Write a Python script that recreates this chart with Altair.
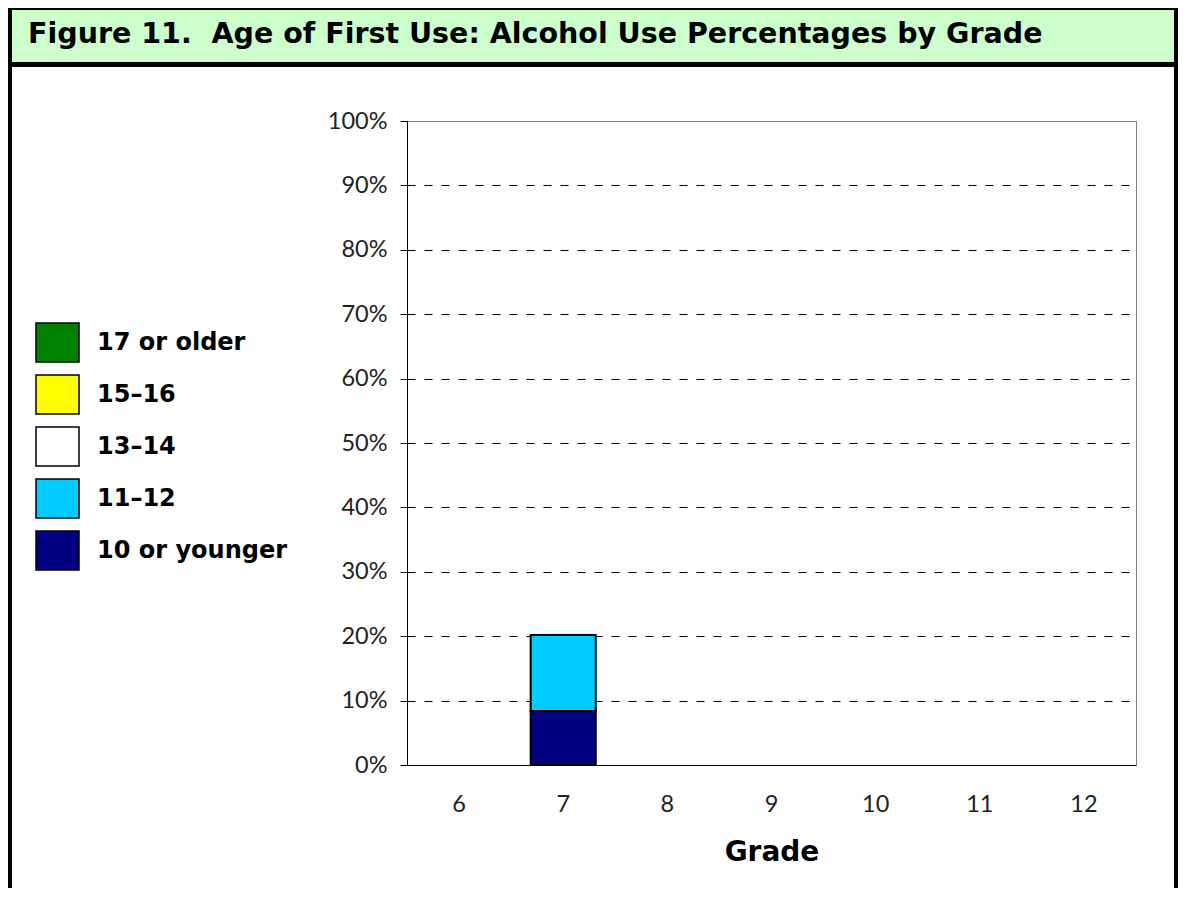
import altair as alt
import pandas as pd

# ---- data ----
grades = ["6", "7", "8", "9", "10", "11", "12"]
age_groups = ["17 or older", "15–16", "13–14", "11–12", "10 or younger"]
group_colors = ["#008000", "#ffff00", "#ffffff", "#00ccff", "#000080"]
stack_rank = [5, 4, 3, 2, 1]  # 1 = bottom of the stack

pct_17_older = [0, 0, 0, 0, 0, 0, 0]
pct_15_16 = [0, 0, 0, 0, 0, 0, 0]
pct_13_14 = [0, 0, 0, 0, 0, 0, 0]
pct_11_12 = [0, 11.8, 0, 0, 0, 0, 0]
pct_10_younger = [0, 8.4, 0, 0, 0, 0, 0]

y_ticks = [0, 10, 20, 30, 40, 50, 60, 70, 80, 90, 100]
title_text = "Figure 11.\u00a0 Age of First Use: Alcohol Use Percentages by Grade"
x_title = "Grade"

series = [pct_17_older, pct_15_16, pct_13_14, pct_11_12, pct_10_younger]
rows = []
for grp, rank, vals in zip(age_groups, stack_rank, series):
    for g, v in zip(grades, vals):
        rows.append({"grade": g, "age": grp, "rank": rank, "value": v})
df = pd.DataFrame(rows)

one = alt.Data(values=[{"k": 1}])


def box(x1, x2, y1, y2, color):
    return alt.Chart(one).mark_rect(color=color).encode(
        x=alt.value(x1), x2=alt.value(x2), y=alt.value(y1), y2=alt.value(y2)
    )


# frame pieces (coordinates relative to plot origin)
frame_top = box(-399, 771, -113, -54, "black")
frame_green = box(-395, 767, -111, -59, "#ccffcc")
frame_left = box(-399, -395, -113, 767, "black")
frame_right = box(767, 771, -113, 767, "black")

title = alt.Chart(one).mark_text(
    text=title_text, align="left", baseline="alphabetic",
    font="DejaVu Sans", fontWeight="bold", fontSize=28.5, color="black",
).encode(x=alt.value(-379), y=alt.value(-78))

bars = alt.Chart(df).transform_filter("datum.value > 0").mark_bar(
    stroke="black", strokeWidth=2
).encode(
    x=alt.X(
        "grade:N", sort=grades,
        scale=alt.Scale(domain=grades, paddingInner=0.375, paddingOuter=0.1875),
        axis=alt.Axis(
            title=x_title, labelAngle=0, ticks=False, grid=False,
            domainColor="black", domainWidth=1,
            labelFont="Lato", labelFontSize=23.5, labelColor="#222", labelPadding=27,
            titleFont="DejaVu Sans", titleFontWeight="bold", titleFontSize=28,
            titleColor="black", titleY=95, titleBaseline="alphabetic",
        ),
    ),
    y=alt.Y(
        "value:Q", stack="zero",
        scale=alt.Scale(domain=[0, 100], nice=False),
        axis=alt.Axis(
            title=None, values=y_ticks, labelExpr="datum.value + '%'",
            tickSize=7, tickColor="black", domainColor="black",
            labelFont="Lato", labelFontSize=23.5, labelColor="#222", labelPadding=13,
            grid=True, gridColor="black", gridDash=[8, 9], gridWidth=1,
            gridOpacity={"condition": {"test": "datum.value >= 100 || datum.value <= 0", "value": 0}, "value": 1},
        ),
    ),
    color=alt.Color(
        "age:N",
        scale=alt.Scale(domain=age_groups, range=group_colors),
        legend=alt.Legend(
            title=None, orient="none", legendX=-372, legendY=199, direction="vertical",
            symbolType="M-1,-0.907H1V0.907H-1Z", symbolSize=1849,
            symbolStrokeColor="black", symbolStrokeWidth=1.5, symbolOpacity=1,
            labelFont="DejaVu Sans", labelFontWeight="bold", labelFontSize=24,
            labelColor="black", labelOffset=17, labelLimit=400, rowPadding=5, padding=0,
        ),
    ),
    order=alt.Order("rank:Q", sort="ascending"),
)

chart = alt.layer(
    frame_top, frame_green, frame_left, frame_right, title, bars
).properties(
    width=729, height=644,
    autosize=alt.AutoSizeParams(type="none"),
    padding={"left": 399, "top": 113, "right": 42, "bottom": 123},
    background="white",
).configure_view(stroke="#808080", strokeWidth=1)

chart.save("out.html", embed_options={"renderer": "svg", "actions": False})
